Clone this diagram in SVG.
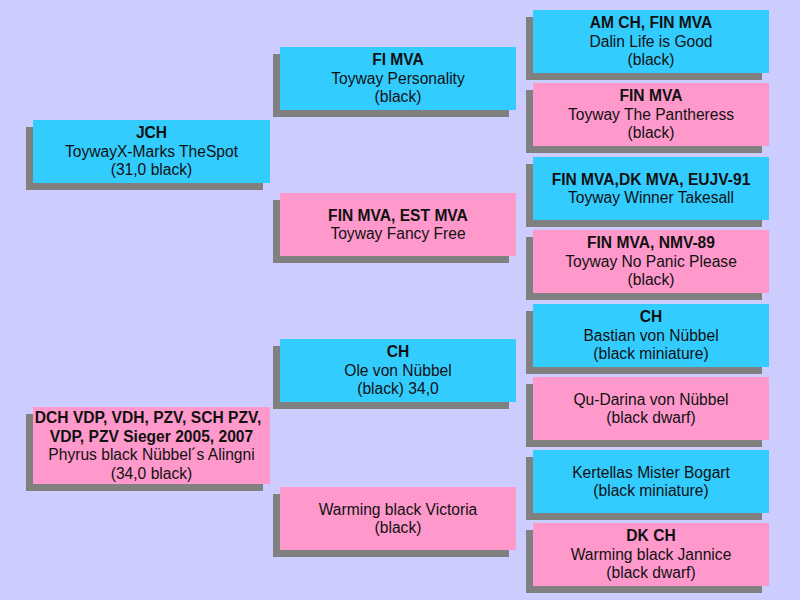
<svg xmlns="http://www.w3.org/2000/svg" width="800" height="600" viewBox="0 0 800 600">
<style>
.sh{fill:#808080}
.b{fill:#33ccff}
.p{fill:#ff99cc}
text{font-family:"Liberation Sans",Arial,sans-serif;font-size:15.6px;fill:#111;text-anchor:middle}
.t{font-weight:bold}
</style>
<rect width="800" height="600" fill="#ccccff"/>
<g id="connectors"/>
<g id="n1"><rect class="sh" x="26" y="127" width="237" height="63"/><rect class="b" x="33" y="120" width="237" height="63"/>
<text x="151.5" y="138"><tspan class="t">JCH</tspan><tspan x="151.5" dy="18.5">ToywayX-Marks TheSpot</tspan><tspan x="151.5" dy="18.5">(31,0 black)</tspan></text></g>
<g id="n2"><rect class="sh" x="26" y="414" width="237" height="77"/><rect class="p" x="33" y="407" width="237" height="77"/>
<text x="148" y="423"><tspan class="t">DCH VDP, VDH, PZV, SCH PZV,</tspan><tspan class="t" x="151.5" dy="18.5">VDP, PZV Sieger 2005, 2007</tspan><tspan x="151.5" dy="18.5">Phyrus black Nübbel´s Alingni</tspan><tspan x="151.5" dy="18.5">(34,0 black)</tspan></text></g>
<g id="n3"><rect class="sh" x="273" y="54" width="236" height="63"/><rect class="b" x="280" y="47" width="236" height="63"/>
<text x="398" y="65"><tspan class="t">FI MVA</tspan><tspan x="398" dy="18.5">Toyway Personality</tspan><tspan x="398" dy="18.5">(black)</tspan></text></g>
<g id="n4"><rect class="sh" x="273" y="200" width="236" height="63"/><rect class="p" x="280" y="193" width="236" height="63"/>
<text x="398" y="220.5"><tspan class="t">FIN MVA, EST MVA</tspan><tspan x="398" dy="18.5">Toyway Fancy Free</tspan></text></g>
<g id="n5"><rect class="sh" x="273" y="346" width="236" height="63"/><rect class="b" x="280" y="339" width="236" height="63"/>
<text x="398" y="357"><tspan class="t">CH</tspan><tspan x="398" dy="18.5">Ole von Nübbel</tspan><tspan x="398" dy="18.5">(black) 34,0</tspan></text></g>
<g id="n6"><rect class="sh" x="273" y="494" width="236" height="63"/><rect class="p" x="280" y="487" width="236" height="63"/>
<text x="398" y="514.5"><tspan>Warming black Victoria</tspan><tspan x="398" dy="18.5">(black)</tspan></text></g>
<g id="n7"><rect class="sh" x="526" y="17" width="236" height="63"/><rect class="b" x="533" y="10" width="236" height="63"/>
<text x="651" y="28"><tspan class="t">AM CH, FIN MVA</tspan><tspan x="651" dy="18.5">Dalin Life is Good</tspan><tspan x="651" dy="18.5">(black)</tspan></text></g>
<g id="n8"><rect class="sh" x="526" y="90" width="236" height="63"/><rect class="p" x="533" y="83" width="236" height="63"/>
<text x="651" y="101"><tspan class="t">FIN MVA</tspan><tspan x="651" dy="18.5">Toyway The Pantheress</tspan><tspan x="651" dy="18.5">(black)</tspan></text></g>
<g id="n9"><rect class="sh" x="526" y="164" width="236" height="63"/><rect class="b" x="533" y="157" width="236" height="63"/>
<text x="651" y="184.5"><tspan class="t">FIN MVA,DK MVA, EUJV-91</tspan><tspan x="651" dy="18.5">Toyway Winner Takesall</tspan></text></g>
<g id="n10"><rect class="sh" x="526" y="237" width="236" height="63"/><rect class="p" x="533" y="230" width="236" height="63"/>
<text x="651" y="248"><tspan class="t">FIN MVA, NMV-89</tspan><tspan x="651" dy="18.5">Toyway No Panic Please</tspan><tspan x="651" dy="18.5">(black)</tspan></text></g>
<g id="n11"><rect class="sh" x="526" y="311" width="236" height="63"/><rect class="b" x="533" y="304" width="236" height="63"/>
<text x="651" y="322"><tspan class="t">CH</tspan><tspan x="651" dy="18.5">Bastian von Nübbel</tspan><tspan x="651" dy="18.5">(black miniature)</tspan></text></g>
<g id="n12"><rect class="sh" x="526" y="384" width="236" height="63"/><rect class="p" x="533" y="377" width="236" height="63"/>
<text x="651" y="404.5"><tspan>Qu-Darina von Nübbel</tspan><tspan x="651" dy="18.5">(black dwarf)</tspan></text></g>
<g id="n13"><rect class="sh" x="526" y="457" width="236" height="63"/><rect class="b" x="533" y="450" width="236" height="63"/>
<text x="651" y="477.5"><tspan>Kertellas Mister Bogart</tspan><tspan x="651" dy="18.5">(black miniature)</tspan></text></g>
<g id="n14"><rect class="sh" x="526" y="530" width="236" height="63"/><rect class="p" x="533" y="523" width="236" height="63"/>
<text x="651" y="541"><tspan class="t">DK CH</tspan><tspan x="651" dy="18.5">Warming black Jannice</tspan><tspan x="651" dy="18.5">(black dwarf)</tspan></text></g>
</svg>
